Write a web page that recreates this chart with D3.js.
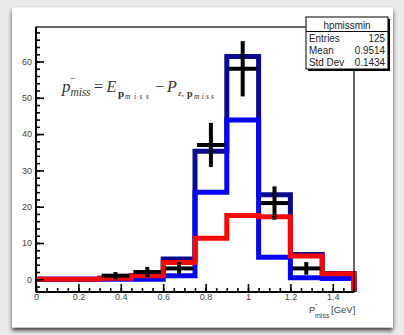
<!DOCTYPE html>
<html><head><meta charset="utf-8">
<script src="https://cdn.jsdelivr.net/npm/d3@7"></script>
<style>body{margin:0;background:#ebebeb;overflow:hidden}</style>
</head><body>
<svg id="c" width="404" height="335"></svg>
<script>
// ---- data ----
const binEdges = [0, 0.15, 0.3, 0.45, 0.6, 0.75, 0.9, 1.05, 1.2, 1.35, 1.5];
const dataCounts = [0, 0, 1, 2, 3, 37, 58, 21, 3, 0];
const totalMC   = [0, 0, 0.3, 1, 5.6, 35.3, 61.4, 23.3, 6.8, 1.6];
const compBlue  = [0, 0, 0, 0, 1.0, 24.0, 43.9, 6.1, 0.4, 0.2];
const compRed   = [0, 0, 0.3, 1.0, 4.6, 11.3, 17.6, 17.2, 6.4, 1.5];
const xTicks = [0, 0.2, 0.4, 0.6, 0.8, 1, 1.2, 1.4];
const yTicks = [0, 10, 20, 30, 40, 50, 60];
const statsTitle = "hpmissmin";
const statsRows = [["Entries", "125"], ["Mean", "0.9514"], ["Std Dev", "0.1434"]];

const svg = d3.select("#c");
const defs = svg.append("defs");
const f = defs.append("filter").attr("id","sh").attr("x","-10%").attr("y","-10%").attr("width","120%").attr("height","125%");
f.append("feDropShadow").attr("dx",0).attr("dy",3).attr("stdDeviation",2.2).attr("flood-color","#222").attr("flood-opacity",0.85);

// card
svg.append("rect").attr("x",12).attr("y",7.5).attr("width",381).attr("height",320)
  .attr("fill","#fff").attr("filter","url(#sh)");

const L = 36, R = 354, T = 27, B = 292;
const x = d3.scaleLinear().domain([0, 1.5]).range([L, R]);
const y = d3.scaleLinear().domain([-3.5, 69.5]).range([B, T]);

defs.append("clipPath").attr("id","fr").append("rect")
  .attr("x",L).attr("y",T).attr("width",R-L+3).attr("height",B-T);

function histPath(vals){
  const p = d3.path();
  p.moveTo(x(binEdges[0]), y(vals[0]));
  for (let i=0;i<vals.length;i++){
    p.lineTo(x(binEdges[i+1]), y(vals[i]));
    if (i+1<vals.length) p.lineTo(x(binEdges[i+1]), y(vals[i+1]));
  }
  p.lineTo(x(binEdges[binEdges.length-1]), y(-3.5));
  return p.toString();
}

const g = svg.append("g").attr("clip-path","url(#fr)");
[[totalMC,"#0a0a8e"],[compBlue,"#0505f5"],[compRed,"#f70707"]].forEach(([v,c])=>{
  g.append("path").attr("d",histPath(v)).attr("fill","none").attr("stroke",c)
   .attr("stroke-width",5).attr("stroke-linejoin","miter");
});

// data error bars
dataCounts.forEach((n,i)=>{
  if (n<=0) return;
  const e = Math.sqrt(n);
  const cx = x((binEdges[i]+binEdges[i+1])/2);
  g.append("line").attr("x1",x(binEdges[i])+2).attr("x2",x(binEdges[i+1])-2)
    .attr("y1",y(n)).attr("y2",y(n)).attr("stroke","#000").attr("stroke-width",4);
  g.append("line").attr("x1",cx).attr("x2",cx).attr("y1",y(n-e)).attr("y2",y(n+e))
    .attr("stroke","#000").attr("stroke-width",4);
});

// axes
const xa = svg.append("g").attr("transform",`translate(0,${B})`)
  .call(d3.axisBottom(x).tickValues(xTicks).tickSize(-8).tickPadding(2).tickFormat(d3.format("")));
const xm = svg.append("g").attr("transform",`translate(0,${B})`)
  .call(d3.axisBottom(x).tickValues(d3.range(0,1.5001,0.05)).tickSize(-4).tickFormat(""));
const ya = svg.append("g").attr("transform",`translate(${L},0)`)
  .call(d3.axisLeft(y).tickValues(yTicks).tickSize(-8).tickPadding(4));
const ym = svg.append("g").attr("transform",`translate(${L},0)`)
  .call(d3.axisLeft(y).tickValues(d3.range(-2,69,2)).tickSize(-4).tickFormat(""));
[xa,xm,ya,ym].forEach(a=>{
  a.select(".domain").remove();
  a.selectAll("line").attr("stroke","#000").attr("stroke-width",1.6);
  a.selectAll("text").attr("font-family","Liberation Sans, Arial, sans-serif").attr("font-size",9).attr("fill","#444");
});

// frame
svg.append("rect").attr("x",L).attr("y",T).attr("width",R-L).attr("height",B-T)
  .attr("fill","none").attr("stroke","#000").attr("stroke-width",1.2);
svg.append("line").attr("x1",L).attr("x2",L).attr("y1",T).attr("y2",B).attr("stroke","#000").attr("stroke-width",2);
svg.append("line").attr("x1",L).attr("x2",R).attr("y1",B).attr("y2",B).attr("stroke","#000").attr("stroke-width",2);

// x axis title
const xt = svg.append("g").attr("font-family","Liberation Sans, Arial, sans-serif").attr("fill","#444");
xt.append("text").attr("x",309).attr("y",312.5).attr("font-size",9.5).text("P");
xt.append("text").attr("x",315).attr("y",305.5).attr("font-size",7).text("-");
xt.append("text").attr("x",315).attr("y",317.5).attr("font-size",7).text("miss");
xt.append("text").attr("x",331).attr("y",312.5).attr("font-size",9.5).text("[GeV]");

// formula
const ff = svg.append("g").attr("font-family","Liberation Serif, Times New Roman, serif").attr("fill","#333");
const pieces = [
  {t:"p", x:62, y:92, s:17, st:"italic"},
  {t:"−", x:70, y:82, s:10},
  {t:"miss", x:70.5, y:96, s:11.5, st:"italic", w:20},
  {t:"=", x:94, y:92, s:16},
  {t:"E", x:106.5, y:92, s:16, st:"italic"},
  {t:"p", x:118, y:97, s:11, wt:"bold"},
  {t:"miss", x:125, y:99, s:7.5, st:"italic", w:24},
  {t:"−", x:155, y:92, s:16},
  {t:"P", x:167, y:92, s:16, st:"italic"},
  {t:"z,", x:178, y:96, s:9, st:"italic"},
  {t:"p", x:187, y:97, s:10, wt:"bold"},
  {t:"miss", x:194, y:99, s:7.5, st:"italic", w:20}
];
pieces.forEach(p=>{
  const t = ff.append("text").attr("x",p.x).attr("y",p.y).attr("font-size",p.s)
    .attr("font-style",p.st||"normal").attr("font-weight",p.wt||"normal").text(p.t);
  if (p.w) t.attr("textLength",p.w).attr("lengthAdjust","spacing");
});

// stats box
const sb = svg.append("g");
sb.append("rect").attr("x",308).attr("y",19).attr("width",82).attr("height",52).attr("fill","#000");
sb.append("rect").attr("x",306).attr("y",17).attr("width",82).attr("height",52).attr("fill","#fff").attr("stroke","#000").attr("stroke-width",1);
sb.append("line").attr("x1",306).attr("x2",388).attr("y1",31.5).attr("y2",31.5).attr("stroke","#000").attr("stroke-width",1);
const sf = "Liberation Sans, Arial, sans-serif";
function stxt(xx, yy, s, anchor){
  sb.append("text").attr("transform",`translate(${xx},${yy}) scale(0.86,1)`)
    .attr("text-anchor",anchor).attr("font-family",sf).attr("font-size",11.5).attr("fill","#222").text(s);
}
stxt(347, 28.5, statsTitle, "middle");
statsRows.forEach((r,i)=>{
  stxt(309, 42+i*12, r[0], "start");
  stxt(385, 42+i*12, r[1], "end");
});
</script>
</body></html>
